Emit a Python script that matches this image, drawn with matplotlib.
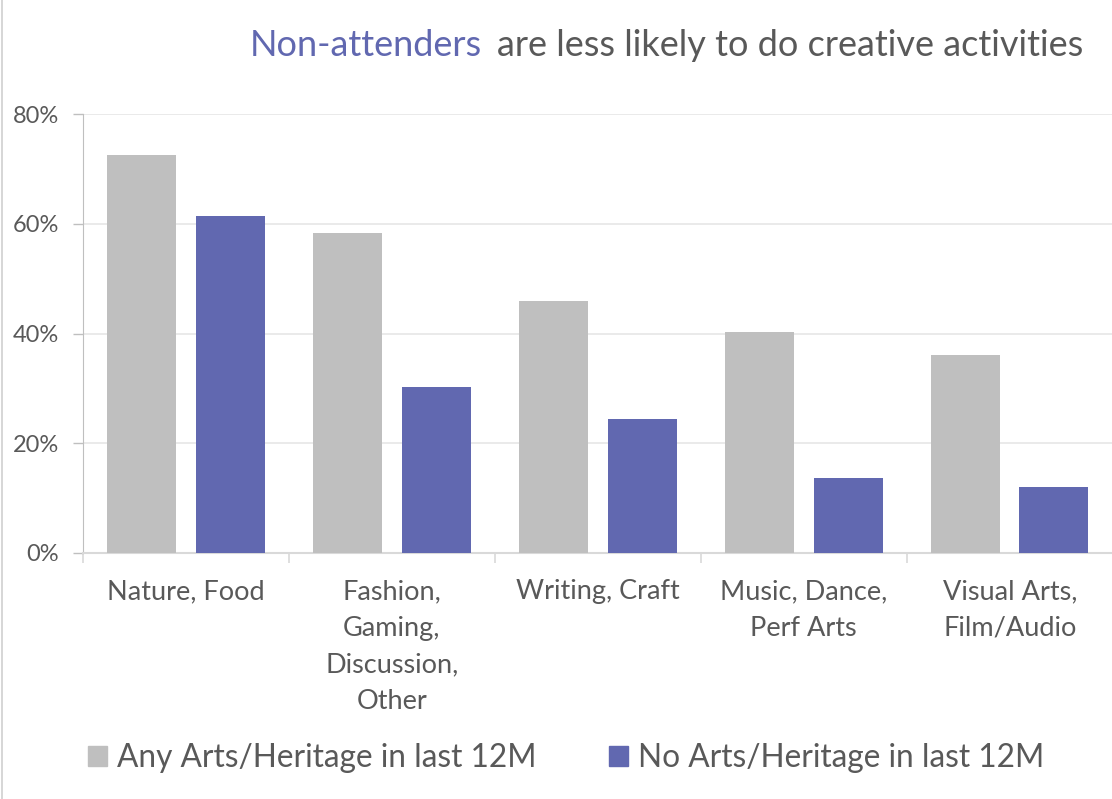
import numpy as np
import matplotlib
matplotlib.use("Agg")
import matplotlib.pyplot as plt
from matplotlib.ticker import FixedLocator, PercentFormatter
from matplotlib.lines import Line2D

categories = ["Nature, Food", "Fashion,\nGaming,\nDiscussion,\nOther", "Writing, Craft",
              "Music, Dance,\nPerf Arts", "Visual Arts,\nFilm/Audio"]
any_arts = [72.6, 58.4, 46.0, 40.3, 36.1]
no_arts = [61.4, 30.3, 24.5, 13.6, 12.1]
series_names = ["Any Arts/Heritage in last 12M", "No Arts/Heritage in last 12M"]

GREY = "#bfbfbf"
BLUE = "#6168b0"
TEXT = "#595959"
FONT = "Lato"

plt.rcParams["font.family"] = [FONT, "DejaVu Sans"]

fig = plt.figure(figsize=(11.12, 7.99), dpi=100)
ax = fig.add_axes([0.0746, 0.308, 0.926, 0.549])

x = np.arange(len(categories))
w = 0.335
ax.bar(x - 0.215, any_arts, w, color=GREY, label=series_names[0], zorder=3)
ax.bar(x + 0.215, no_arts, w, color=BLUE, label=series_names[1], zorder=3)

ax.set_xlim(-0.5, len(categories) - 0.5)
ax.set_ylim(0, 80)
ax.yaxis.set_major_locator(FixedLocator([0, 20, 40, 60, 80]))
ax.yaxis.set_major_formatter(PercentFormatter(decimals=0))
ax.grid(axis="y", color="#e6e6e6", linewidth=1.2, zorder=0)

ax.set_xticks(x)
ax.set_xticklabels(categories, fontsize=19.5, color=TEXT, linespacing=1.58, va="top")
ax.tick_params(axis="x", which="major", length=0, pad=19)
ax.set_xticks(np.arange(len(categories) + 1) - 0.5, minor=True)
ax.tick_params(axis="x", which="minor", length=7, color="#d9d9d9", width=1.2)
ax.tick_params(axis="y", labelsize=17, labelcolor=TEXT, length=7, color="#bfbfbf", width=1, pad=10)

for s in ("top", "right"):
    ax.spines[s].set_visible(False)
ax.spines["left"].set_color("#bfbfbf")
ax.spines["bottom"].set_color("#d9d9d9")
ax.spines["bottom"].set_linewidth(1.5)

# two-colour title, right aligned
t2 = fig.text(0.974, 0.943, "are less likely to do creative activities", fontsize=26,
              color=TEXT, ha="right", va="center")
fig.canvas.draw()
bb = t2.get_window_extent()
fig.text((bb.x0 - 15) / fig.bbox.width, 0.943, "Non-attenders", fontsize=26,
         color=BLUE, ha="right", va="center")

handles = [plt.Rectangle((0, 0), 1, 1, color=GREY), plt.Rectangle((0, 0), 1, 1, color=BLUE)]
fig.legend(handles, series_names, loc="center left", bbox_to_anchor=(0.079, 0.051), ncol=2,
           frameon=False, fontsize=22.8, labelcolor=TEXT, handlelength=0.6, handleheight=0.6,
           handletextpad=0.32, columnspacing=2.3, borderpad=0, borderaxespad=0)

# thin frame line down the left edge
fig.add_artist(Line2D([0.002, 0.002], [0, 1], color="#d0d0d0", linewidth=1.2,
                      transform=fig.transFigure))

fig.savefig("out.png", dpi=100)
